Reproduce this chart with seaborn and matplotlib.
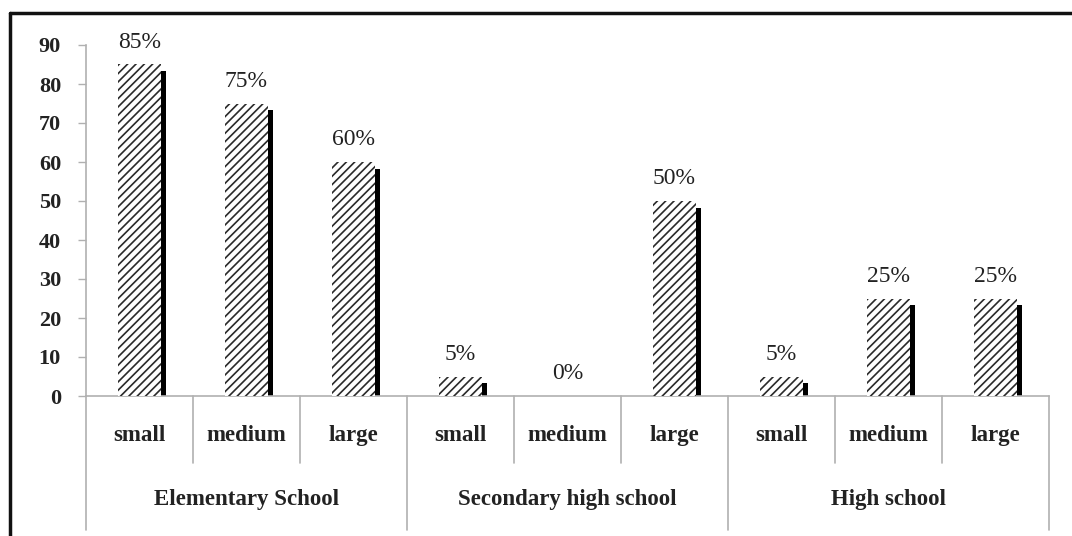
import matplotlib
matplotlib.use("Agg")
import matplotlib.pyplot as plt
from matplotlib.patches import Rectangle
from matplotlib.lines import Line2D
import seaborn as sns
import pandas as pd

# School levels and size classes
groups = ["Elementary School", "Secondary high school", "High school"]
sizes = ["small", "medium", "large"]
values = [85, 75, 60, 5, 0, 50, 5, 25, 25]
yticks = [0, 10, 20, 30, 40, 50, 60, 70, 80, 90]

slots = [f"{g}|{s}" for g in groups for s in sizes]
df = pd.DataFrame({"slot": slots, "value": values})

sns.set_theme(style="white")
plt.rcParams["font.family"] = ["Liberation Serif", "DejaVu Serif"]
plt.rcParams["hatch.linewidth"] = 1.2

text_color = "#222222"
line_color = "#b0b0b0"

fig = plt.figure(figsize=(10.72, 5.36), dpi=100)
fig.patch.set_facecolor("white")
ax = fig.add_axes([86 / 1072, 1 - 396 / 536, (1049 - 86) / 1072, (396 - 45) / 536])
ax.set_facecolor("white")

sns.barplot(data=df, x="slot", y="value", order=slots, ax=ax,
            width=0.41, color="white", edgecolor="#2a2a2a",
            linewidth=0, hatch="////", zorder=3)

# Dark drop shadow behind each bar, offset right and down
shift = 0.047
drop = 1.7
for bar, v in zip(ax.patches, values):
    bar.set_hatch("////")
    if v <= 0:
        continue
    h = v - drop if v > drop else v * 0.7
    ax.add_patch(Rectangle((bar.get_x() + shift, 0), bar.get_width(), h,
                           facecolor="black", edgecolor="none", zorder=2))

# Value labels above bars
for i, v in enumerate(values):
    ax.annotate(f"{v}%", xy=(i, v), xytext=(0, 16), textcoords="offset points",
                ha="center", va="center", fontsize=17, color=text_color,
                annotation_clip=False)

ax.set_xlim(-0.5, len(slots) - 0.5)
ax.set_ylim(0, 90)
ax.set_yticks(yticks)
ax.set_yticklabels([str(t) for t in yticks], fontsize=16, fontweight="bold",
                   color=text_color)
ax.tick_params(axis="y", left=True, length=6, width=1, color=line_color, pad=12)

ax.set_xticks(range(len(slots)))
ax.set_xticklabels(sizes * len(groups), fontsize=16.5, fontweight="bold",
                   color=text_color)
ax.tick_params(axis="x", bottom=False, length=0, pad=21)
ax.set_xlabel("")
ax.set_ylabel("")

for side in ["top", "right"]:
    ax.spines[side].set_visible(False)
for side in ["left", "bottom"]:
    ax.spines[side].set_color(line_color)
    ax.spines[side].set_linewidth(1.2)

# Two-tier category separators below the axis
tr = ax.get_xaxis_transform()
for k in range(len(slots) + 1):
    xb = k - 0.5
    y_end = -0.382 if k % len(sizes) == 0 else -0.191
    ax.add_line(Line2D([xb, xb], [0, y_end], transform=tr, color=line_color,
                       linewidth=1.2, clip_on=False))

for gi, g in enumerate(groups):
    xc = gi * len(sizes) + (len(sizes) - 1) / 2
    ax.text(xc, -0.296, g, transform=tr, ha="center", va="center",
            fontsize=16.5, fontweight="bold", color=text_color)

# Outer frame along top and left edges
fig.add_artist(Line2D([10 / 1072, 10 / 1072], [0, 1 - 13 / 536],
                      transform=fig.transFigure, color="#111111", linewidth=2.5))
fig.add_artist(Line2D([10 / 1072, 1], [1 - 13 / 536, 1 - 13 / 536],
                      transform=fig.transFigure, color="#111111", linewidth=2.5))

fig.savefig("out.png", dpi=100, facecolor="white")
